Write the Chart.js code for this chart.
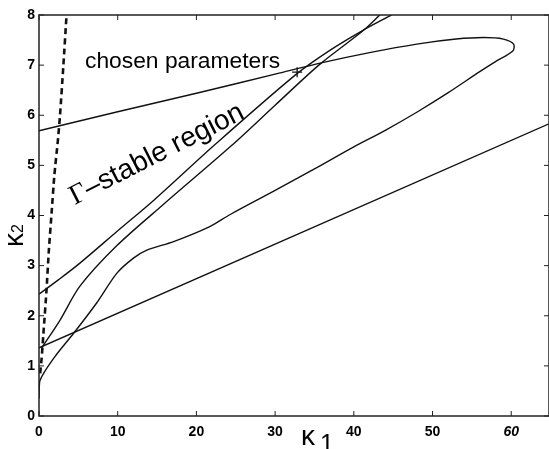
<!DOCTYPE html>
<html>
<head>
<meta charset="utf-8">
<script src="https://cdn.jsdelivr.net/npm/chart.js@4/dist/chart.umd.min.js"></script>
<style>
  html, body { margin: 0; padding: 0; background: #fff; }
</style>
</head>
<body>
<canvas id="chart" width="549" height="449"></canvas>
<script>
/* ------------------------- */
/* DATA (kappa1, kappa2)     */
/* ------------------------- */
const xTicks = [0, 10, 20, 30, 40, 50, 60];
const yTicks = [0, 1, 2, 3, 4, 5, 6, 7, 8];

// closed boundary: top edge (through the chosen point), round the nose, back down
const loopK1 = [0, 10, 20, 30, 36, 42, 48, 53, 56.5, 59, 60.3, 60.2, 58.2, 56, 52, 48, 44, 40, 35, 30, 24.3, 21.7, 17.1, 13.7, 12.0, 9.9, 7.3, 4.4, 2.0, 0.1, 0];
const loopK2 = [5.69, 6.07, 6.44, 6.82, 7.05, 7.25, 7.42, 7.52, 7.55, 7.52, 7.42, 7.28, 7.09, 6.87, 6.45, 6.06, 5.7, 5.37, 4.93, 4.5, 4.02, 3.78, 3.48, 3.31, 3.15, 2.85, 2.25, 1.65, 1.18, 0.7, 0.35];

// the two near-parallel boundaries
const lineAK1 = [0, 2.5, 5.2, 9.9, 14.7, 22.4, 32.7, 37, 41, 44.8];
const lineAK2 = [2.43, 2.72, 3.05, 3.68, 4.32, 5.42, 6.82, 7.3, 7.68, 8.0];
const lineBK1 = [0.3, 2.7, 5.2, 9.9, 15.8, 24.5, 30, 35.7, 41.2, 43.3];
const lineBK2 = [1.35, 1.92, 2.59, 3.4, 4.22, 5.4, 6.2, 7.02, 7.69, 8.0];

// lower straight boundary
const lowK1 = [0, 64.8];
const lowK2 = [1.36, 5.83];

// dashed boundary near the k2 axis
const dashK1 = [0.15, 0.34, 0.55, 0.95, 1.25, 1.6, 1.95, 2.4, 2.67, 3.1, 3.5];
const dashK2 = [0.85, 1.16, 1.62, 2.5, 3.3, 4.05, 4.8, 5.5, 6.0, 7.0, 8.0];

// chosen parameters
const chosenK1 = [32.8];
const chosenK2 = [6.86];

const pts = (xs, ys) => xs.map((v, i) => ({ x: v, y: ys[i] }));

const sans = "'Liberation Sans', Arial, sans-serif";
const serif = "'Liberation Serif', 'Times New Roman', serif";

function curve(xs, ys, extra) {
  return Object.assign({
    data: pts(xs, ys),
    showLine: true,
    borderColor: "#111",
    borderWidth: 1.4,
    pointRadius: 0,
    tension: 0.3,
    fill: false
  }, extra || {});
}

/* ------------------------- */
/* FRAME, TICKS AND TEXT     */
/* ------------------------- */
const decor = {
  id: "decor",
  afterDraw(chart) {
    const { ctx, chartArea: a, scales: { x, y } } = chart;
    ctx.save();
    ctx.strokeStyle = "#222";
    ctx.lineWidth = 1.5;
    ctx.strokeRect(a.left, a.top, a.right - a.left, a.bottom - a.top);

    // inward ticks on every side
    ctx.lineWidth = 1;
    ctx.beginPath();
    xTicks.forEach(v => {
      const px = x.getPixelForValue(v);
      ctx.moveTo(px, a.bottom); ctx.lineTo(px, a.bottom - 5);
      ctx.moveTo(px, a.top); ctx.lineTo(px, a.top + 5);
    });
    yTicks.forEach(v => {
      const py = y.getPixelForValue(v);
      ctx.moveTo(a.left, py); ctx.lineTo(a.left + 5, py);
      ctx.moveTo(a.right, py); ctx.lineTo(a.right - 5, py);
    });
    ctx.stroke();

    ctx.fillStyle = "#000";
    ctx.textBaseline = "alphabetic";
    ctx.textAlign = "left";

    // annotation
    ctx.font = "22.8px " + sans;
    ctx.fillText("chosen parameters", x.getPixelForValue(5.85), y.getPixelForValue(6.95));

    // rotated region label
    ctx.save();
    ctx.translate(x.getPixelForValue(4.55), y.getPixelForValue(4.21));
    ctx.rotate(-27 * Math.PI / 180);
    ctx.font = "28px " + serif;
    ctx.fillText("\u0393", 0, 0);
    const gw = ctx.measureText("\u0393").width;
    ctx.font = "28px " + sans;
    ctx.fillText("\u2013stable region", gw, 0);
    ctx.restore();

    // axis titles
    ctx.font = "28px " + sans;
    ctx.fillText("\u03ba", 301, 445);
    ctx.font = "25px " + sans;
    ctx.fillText("1", 320, 452);

    ctx.save();
    ctx.translate(23, 247);
    ctx.rotate(-Math.PI / 2);
    ctx.font = "28px " + sans;
    ctx.fillText("\u03ba", 0, 0);
    const kw = ctx.measureText("\u03ba").width;
    ctx.font = "16px " + sans;
    ctx.fillText("2", kw, 0);
    ctx.restore();

    ctx.restore();
  }
};

new Chart(document.getElementById("chart"), {
  type: "scatter",
  data: {
    datasets: [
      curve(loopK1, loopK2),
      curve(lineAK1, lineAK2),
      curve(lineBK1, lineBK2),
      curve(lowK1, lowK2, { tension: 0 }),
      curve(dashK1, dashK2, { borderWidth: 2.6, borderDash: [6, 4], tension: 0.2 }),
      {
        data: pts(chosenK1, chosenK2),
        showLine: false,
        pointStyle: "cross",
        pointRadius: 5,
        borderColor: "#111",
        borderWidth: 1.3
      }
    ]
  },
  options: {
    responsive: false,
    animation: false,
    layout: { autoPadding: false, padding: { top: 15, right: 0, left: 0, bottom: 0 } },
    plugins: { legend: { display: false }, tooltip: { enabled: false } },
    scales: {
      x: {
        type: "linear",
        min: 0,
        max: 64.8,
        afterBuildTicks: s => { s.ticks = xTicks.map(v => ({ value: v })); },
        afterFit: s => { s.height = 33; s.paddingRight = 0; s.paddingLeft = 0; },
        border: { display: false },
        grid: { display: false, drawTicks: false },
        ticks: {
          padding: 8,
          color: "#000",
          font: ctx => ({
            family: sans,
            size: 14,
            weight: "bold",
            style: ctx.tick && ctx.tick.value === 60 ? "italic" : "normal"
          })
        }
      },
      y: {
        type: "linear",
        min: 0,
        max: 8,
        afterBuildTicks: s => { s.ticks = yTicks.map(v => ({ value: v })); },
        afterFit: s => { s.width = 39; },
        border: { display: false },
        grid: { display: false, drawTicks: false },
        ticks: {
          padding: 4,
          color: "#000",
          font: { family: sans, size: 14, weight: "bold" }
        }
      }
    }
  },
  plugins: [decor]
});
</script>
</body>
</html>
